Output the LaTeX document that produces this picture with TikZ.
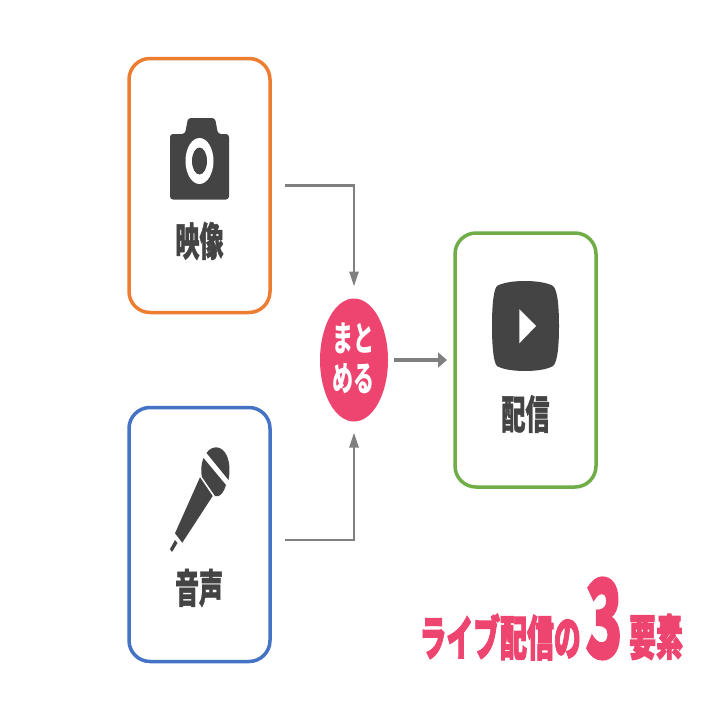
\documentclass[tikz,border=0pt]{standalone}
\usepackage{graphicx}
\usepackage{fontspec}
\newfontfamily\cjk{Noto Sans CJK JP}[BoldFeatures={FakeBold=1.2}]
\newfontfamily\cjkplain{Noto Sans CJK JP}
\newfontfamily\cjkheavy{Noto Sans CJK JP}[BoldFeatures={FakeBold=2.6}]
\usetikzlibrary{arrows.meta,shapes.geometric}
\definecolor{iconGray}{HTML}{444444}
\definecolor{arrowGray}{HTML}{808080}
\definecolor{mixPink}{HTML}{EE4570}
\definecolor{videoOrange}{HTML}{ED7D31}
\definecolor{audioBlue}{HTML}{4472C4}
\definecolor{liveGreen}{HTML}{70AD47}
\newcommand{\squeezed}[3]{\scalebox{#1}[1]{\fontsize{#2}{#2}\cjk\bfseries #3}}
\newcommand{\squeezedmix}[1]{\scalebox{0.6}[1]{\fontsize{35pt}{35pt}\cjkplain\bfseries #1}}
\newcommand{\squeezedtitle}[3]{\scalebox{#1}[1]{\fontsize{#2}{#2}\cjkheavy\bfseries #3}}
\tikzstyle{panel}=[draw,line width=3.5pt,rounded corners=21pt,minimum width=141pt,minimum height=254pt,inner sep=0pt,outer sep=0pt]
\tikzstyle{caption}=[text=iconGray,inner sep=0pt]
\tikzstyle{mixer}=[ellipse,fill=mixPink,minimum width=68pt,minimum height=123pt,inner sep=0pt,outer sep=0pt]
\tikzstyle{flow}=[draw=arrowGray,line width=2.7pt]
\tikzstyle{title}=[text=mixPink,inner sep=0pt]

\begin{document}
\begin{tikzpicture}[x=1pt,y=-1pt]
	\useasboundingbox[fill=white] (0,0) rectangle (720,720);
	% First we draw the panels
	\node[panel,draw=videoOrange] (video) at (199.5,185.5) {};
	\node[panel,draw=audioBlue] (audio) at (199.5,534.5) {};
	\node[panel,draw=liveGreen] (live) at (525.5,360) {};
	\node[mixer] (mix) at (354,360) {};
	\node[text=white,inner sep=0pt,align=center] (mixtext) at (353,358.5) {\squeezedmix{まと}\\[9pt]\squeezedmix{める}};
	% Captions
	\node[caption] (videotext) at (199.5,241) {\squeezed{0.6}{40pt}{映像}};
	\node[caption] (audiotext) at (199,588) {\squeezed{0.6}{40pt}{音声}};
	\node[caption] (livetext) at (525.5,414) {\squeezed{0.6}{40pt}{配信}};
	% Camera
	\fill[iconGray,rounded corners=3pt] (170,134) -- (185,134) -- (188,118) -- (215,118) -- (218,134) -- (229,134) -- (229,199.5) -- (170,199.5) -- cycle;
	\fill[white] (199.5,161) ellipse [x radius=14,y radius=23];
	\fill[iconGray] (199.5,161) ellipse [x radius=7.5,y radius=13.5];
	% Microphone
	\fill[iconGray] (206.5,453) .. controls (212,445) and (222,445) .. (227,456) .. controls (230,464) and (230,472) .. (228.5,480) -- cycle;
	\fill[iconGray] (203.5,458) .. controls (201,464) and (200.5,472) .. (202,477) -- (215,496) .. controls (220,498) and (224,492) .. (226,485) -- cycle;
	\fill[iconGray] (200,477.3) -- (212.7,496) -- (182.3,542.7) -- (175,533.3) -- cycle;
	\fill[iconGray] (175,540) -- (177.5,543) -- (172,552) -- (170,549) -- cycle;
	% Play button
	\fill[iconGray] (525,281) .. controls (538,281) and (548,283) .. (553,286) .. controls (558,290) and (559,310) .. (559,326) .. controls (559,342) and (558,362) .. (553,366) .. controls (548,369) and (538,371) .. (525,371) .. controls (512,371) and (502,369) .. (497,366) .. controls (493,362) and (492,342) .. (492,326) .. controls (492,310) and (493,290) .. (497,286) .. controls (502,283) and (512,281) .. (525,281) -- cycle;
	\fill[white] (519.3,309.3) -- (536,326) -- (519.3,343.3) -- cycle;
	% Connect panels with arrows
	\coordinate (audioout) at (285,540);
	\path[flow,shorten <=15pt,shorten >=12pt,-{Triangle[length=15pt,width=9pt]}] (video.east) -| (mix.north);
	\path[flow,shorten >=11pt,-{Triangle[length=15pt,width=9pt]}] (audioout) -| (mix.south);
	\path[flow,line width=3.2pt,shorten <=6pt,shorten >=8pt,-{Triangle[length=9pt,width=15pt]}] (mix.east) -- (live.west);
	% Title
	\node[title,anchor=east] (titlea) at (581,637) {\squeezedtitle{0.56}{48pt}{ライブ配信の}};
	\node[title] (titleb) at (604,618.5) {\squeezedtitle{0.56}{108pt}{3}};
	\node[title] (titlec) at (656,637) {\squeezedtitle{0.56}{48pt}{要素}};
\end{tikzpicture}
\end{document}
